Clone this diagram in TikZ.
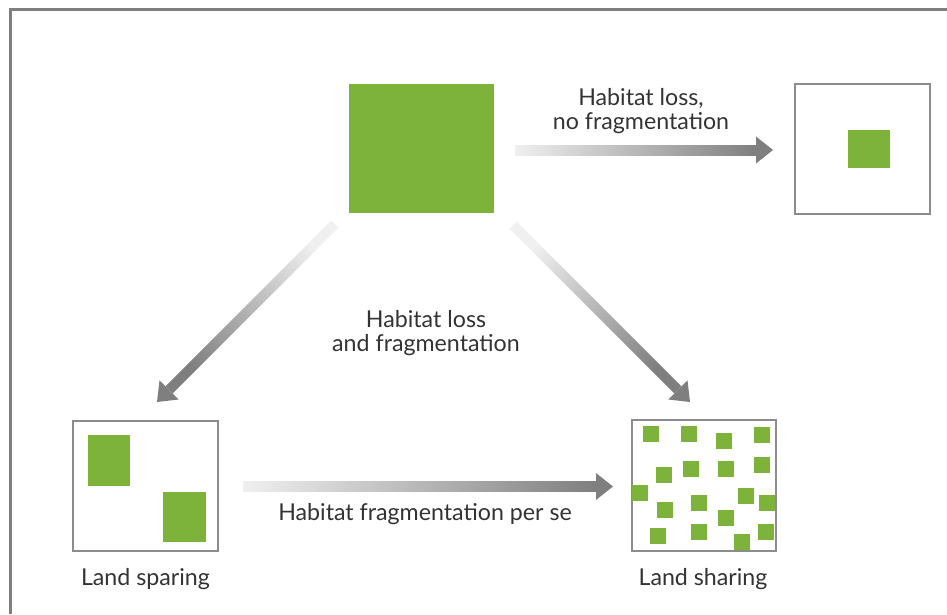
\documentclass[tikz,border=0pt]{standalone}
\usepackage{fontspec}
\setmainfont{Lato}
\usetikzlibrary{calc}

\definecolor{patchgreen}{HTML}{7DB33A}
\definecolor{arrowgray}{HTML}{7F7F7F}
\definecolor{boxgray}{HTML}{8C8C8C}
\definecolor{textgray}{HTML}{333333}

% shaded arrow: start, tip, shading angle
\newcommand{\fadearrow}[3]{%
  \coordinate (#1-h) at ($(#2)!17pt!(#1)$);
  \shade[left color=arrowgray!12, right color=arrowgray, shading angle=#3]
    ($(#1)!5pt!90:(#2)$) -- ($(#1-h)!5pt!90:(#2)$)
    -- ($(#1-h)!5pt!-90:(#2)$) -- ($(#1)!5pt!-90:(#2)$) -- cycle;
  \fill[arrowgray] ($(#1-h)!13.5pt!90:(#2)$) -- (#2)
    -- ($(#1-h)!13.5pt!-90:(#2)$) -- cycle;
}

\begin{document}
\begin{tikzpicture}[x=1pt,
            y=-1pt,
            box/.style={draw=boxgray, line width=1.3pt, fill=white, inner sep=0pt},
            patch/.style={fill=patchgreen, inner sep=0pt},
            tiny/.style={patch, minimum size=16pt},
            caption/.style={text=textgray, align=center,
                            font=\fontsize{23.2}{24.5}\selectfont}]

        \useasboundingbox (0,0) rectangle (947,614);
        \draw[arrowgray, line width=2.8pt] (10.5,614) -- (10.5,9.5) -- (947,9.5);

        % habitats
        \node[patch, minimum width=145pt, minimum height=129pt] (whole)   at (421.5,148.5) {};
        \node[box,   minimum width=135pt, minimum height=130pt] (lost)    at (862.5,149)   {};
        \node[patch, minimum width=42pt,  minimum height=38pt]  (remnant) at (869,149)     {};
        \node[box,   minimum width=145pt, minimum height=130pt] (sparing) at (145.5,486)   {};
        \node[patch, minimum width=42pt,  minimum height=51pt]  (spare1)  at (109,460.5)   {};
        \node[patch, minimum width=43pt,  minimum height=50pt]  (spare2)  at (184.5,517)   {};
        \node[box,   minimum width=144pt, minimum height=131pt] (sharing) at (704,485.5)   {};

        \foreach \x/\y [count=\i] in {651/433.5, 689/434, 724/441, 762/435,
                                     664/475, 690.5/468.5, 726/468.5, 762/465,
                                     640/492.5, 745.5/496, 767/503, 699/502.5,
                                     665/509.5, 726/518, 658/536, 699/532,
                                     766/532, 742/542}
            \node[tiny] (share\i) at (\x,\y) {};

        % arrows
        \coordinate (a1) at (515,150);   \coordinate (b1) at (773,150);
        \coordinate (a2) at (335,224);   \coordinate (b2) at (157,402);
        \coordinate (a3) at (513,225);   \coordinate (b3) at (690,402);
        \coordinate (a4) at (243,486.5); \coordinate (b4) at (613,486.5);

        \fadearrow{a1}{b1}{90}
        \fadearrow{a2}{b2}{-45}
        \fadearrow{a3}{b3}{45}
        \fadearrow{a4}{b4}{90}

        % labels
        \node[caption]              (nofrag)  at (641,111)   {Habitat loss,\\no fragmentation};
        \node[caption]              (andfrag) at (426,333)   {Habitat loss\\and fragmentation};
        \node[caption, anchor=base] (perse)   at (425,520)   {Habitat fragmentation per se};
        \node[caption, anchor=base] (sparelb) at (145.5,585) {Land sparing};
        \node[caption, anchor=base] (sharelb) at (703,585)   {Land sharing};

    \end{tikzpicture}
\end{document}
